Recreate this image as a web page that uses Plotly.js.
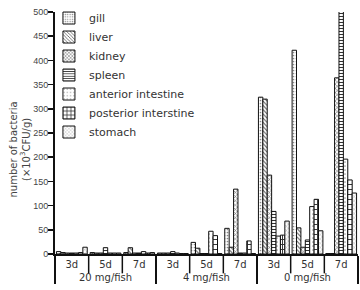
<!DOCTYPE html>
<html>
<head>
<meta charset="utf-8">
<script src="https://cdn.plot.ly/plotly-3.0.1.min.js"></script>
<style>
  html, body { margin: 0; padding: 0; background: #fff; }
  #chart { width: 360px; height: 290px; }
</style>
</head>
<body>
<div id="chart"></div>
<script>
// Bacterial counts (x10^3 CFU/g) by organ, dose and day
const doses = ["20 mg/fish", "20 mg/fish", "20 mg/fish",
               "4 mg/fish", "4 mg/fish", "4 mg/fish",
               "0 mg/fish", "0 mg/fish", "0 mg/fish"];
const days = ["3d", "5d", "7d", "3d", "5d", "7d", "3d", "5d", "7d"];

const organs = ["gill", "liver", "kidney", "spleen",
                "anterior intestine", "posterior interstine", "stomach"];

const gill      = [5, 3, 3,   2, 24, 53,   324, 421, 1];
const liver     = [3, 2, 13,  2, 12, 14,   320, 54, 1];
const kidney    = [2, 2, 2,   2, 1, 134,   163, 14, 364];
const spleen    = [2, 13, 2,  5, 1, 2,     88, 29, 505];
const anterior  = [2, 2, 5,   2, 47, 2,    37, 98, 196];
const posterior = [3, 2, 2,   1, 38, 27,   39, 113, 153];
const stomach   = [14, 2, 3,  1, 1, 1,     68, 48, 126];

const yTicks = [0, 50, 100, 150, 200, 250, 300, 350, 400, 450, 500];

const seriesValues = [gill, liver, kidney, spleen, anterior, posterior, stomach];

// fill pattern per organ (shape, size, solidity, ink colour)
const patterns = [
  {shape: ".",  size: 3, solidity: 0.25, fgcolor: "#888"},
  {shape: "\\", size: 3, solidity: 0.3,  fgcolor: "#444"},
  {shape: "x",  size: 3, solidity: 0.3,  fgcolor: "#444"},
  {shape: "-",  size: 3, solidity: 0.35, fgcolor: "#333"},
  {shape: ".",  size: 4, solidity: 0.15, fgcolor: "#999"},
  {shape: "+",  size: 5, solidity: 0.35, fgcolor: "#333"},
  {shape: "x",  size: 3, solidity: 0.2,  fgcolor: "#888"}
];

const traces = organs.map((name, i) => ({
  type: "bar",
  name: name,
  x: [doses, days],
  y: seriesValues[i],
  cliponaxis: false,
  marker: {
    color: "#ffffff",
    line: {color: "#111", width: 1},
    pattern: Object.assign({bgcolor: "#ffffff", fillmode: "replace"}, patterns[i])
  },
  hoverinfo: "skip"
}));

// short separators between days inside each dose block
const nCat = days.length;
const daySeparators = [];
for (let k = 1; k < nCat; k++) {
  if (doses[k] === doses[k - 1]) {
    daySeparators.push({
      type: "line", xref: "paper", yref: "paper",
      x0: k / nCat, x1: k / nCat, y0: 0, y1: -0.08,
      line: {color: "#111", width: 1.5}
    });
  }
}

const layout = {
  width: 360,
  height: 290,
  margin: {l: 55, r: 2, t: 12, b: 36},
  paper_bgcolor: "#ffffff",
  plot_bgcolor: "#ffffff",
  font: {family: "DejaVu Sans, Liberation Sans, Arial, sans-serif", color: "#333", size: 10},
  barmode: "group",
  bargap: 0.085,
  bargroupgap: 0,
  showlegend: true,
  legend: {
    x: -0.02, y: 1.035, xanchor: "left", yanchor: "top",
    bgcolor: "rgba(0,0,0,0)",
    font: {family: "DejaVu Sans, sans-serif", size: 11, color: "#333"},
    tracegroupgap: 0,
    itemclick: false
  },
  xaxis: {
    type: "multicategory",
    showline: true, linecolor: "#111", linewidth: 2,
    ticks: "",
    showdividers: true, dividercolor: "#111", dividerwidth: 1.5,
    showgrid: false,
    tickfont: {family: "DejaVu Sans, sans-serif", size: 10, color: "#333"}
  },
  yaxis: {
    range: [0, 500],
    tickvals: yTicks,
    showline: true, linecolor: "#111", linewidth: 2,
    ticks: "outside", ticklen: 5, tickwidth: 1.5, tickcolor: "#111",
    ticklabelstandoff: -2,
    showgrid: false, zeroline: false,
    tickfont: {family: "Liberation Sans, Arial, sans-serif", size: 9, color: "#444"}
  },
  shapes: daySeparators,
  annotations: [{
    xref: "paper", yref: "paper",
    x: -0.117, y: 0.43, xanchor: "center", yanchor: "middle",
    textangle: -90, showarrow: false,
    text: "number of bacteria<br>(\u00d710<sup>3</sup>CFU/g)",
    font: {family: "DejaVu Sans, sans-serif", size: 10, color: "#444"}
  }]
};

Plotly.newPlot("chart", traces, layout, {staticPlot: true, displayModeBar: false});
</script>
</body>
</html>
